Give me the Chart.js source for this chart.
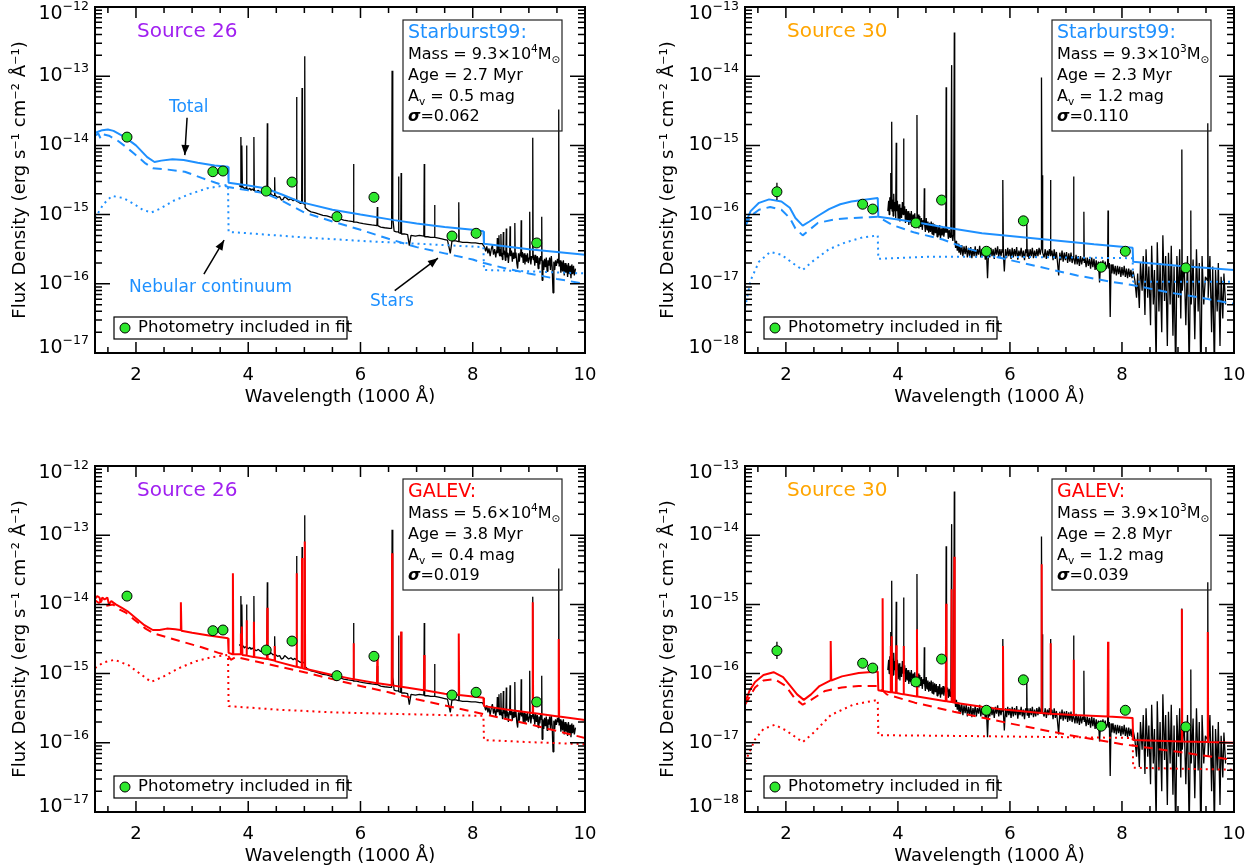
<!DOCTYPE html>
<html>
<head>
<meta charset="utf-8">
<script src="https://cdn.jsdelivr.net/npm/chart.js@4.4.1/dist/chart.umd.min.js"></script>
<style>
  html, body { margin: 0; padding: 0; background: #fff; }
  body { width: 1256px; height: 867px; position: relative; overflow: hidden; }
  .cell { position: absolute; }
</style>
</head>
<body>
<div class="cell" style="left:0;top:0;width:628px;height:433px"><canvas id="p1"></canvas></div>
<div class="cell" style="left:628px;top:0;width:628px;height:433px"><canvas id="p2"></canvas></div>
<div class="cell" style="left:0;top:433px;width:628px;height:434px"><canvas id="p3"></canvas></div>
<div class="cell" style="left:628px;top:433px;width:628px;height:434px"><canvas id="p4"></canvas></div>
<script>
// All spectra: [wavelength (1000 A), log10 flux (erg s^-1 cm^-2 A^-1)]

// Observed spectrum, source 26
const obs26 = [
  [3.84,-14.58],[3.862,-14.60],[3.869,-13.88],[3.876,-14.60],[3.883,-14.61],[3.889,-14.0],[3.896,-14.61],
  [3.91,-14.60],[3.93,-14.63],[3.95,-14.61],[3.963,-14.62],[3.970,-14.0],[3.977,-14.62],[4.0,-14.64],
  [4.03,-14.62],[4.05,-14.65],[4.07,-14.63],[4.094,-14.65],[4.101,-13.88],[4.108,-14.65],[4.14,-14.67],
  [4.18,-14.65],[4.22,-14.68],[4.26,-14.67],[4.30,-14.70],[4.333,-14.69],[4.340,-13.68],[4.347,-14.69],
  [4.38,-14.72],[4.41,-14.70],[4.44,-14.73],[4.465,-14.72],[4.471,-14.46],[4.477,-14.72],
  [4.52,-14.75],[4.56,-14.74],[4.59,-14.79],[4.62,-14.78],[4.65,-14.74],[4.68,-14.76],[4.72,-14.79],
  [4.76,-14.77],[4.80,-14.80],[4.83,-14.78],
  [4.854,-14.80],[4.861,-13.30],[4.868,-14.81],[4.90,-14.82],[4.93,-14.84],[4.952,-14.83],[4.959,-13.17],[4.966,-14.83],
  [5.0,-14.85],[5.007,-12.71],[5.014,-14.90],[5.04,-14.92],[5.07,-14.94],[5.12,-14.96],[5.18,-14.97],
  [5.25,-14.99],[5.33,-15.01],[5.40,-15.02],[5.48,-15.04],[5.55,-15.05],[5.63,-15.06],[5.70,-15.08],
  [5.78,-15.09],[5.869,-15.10],[5.876,-14.27],[5.883,-15.11],[5.93,-15.11],[5.98,-15.12],[6.05,-15.13],
  [6.13,-15.14],[6.20,-15.15],[6.293,-15.16],[6.300,-14.89],[6.307,-15.16],[6.36,-15.18],[6.43,-15.19],
  [6.52,-15.20],[6.555,-15.20],[6.563,-12.92],[6.575,-15.05],[6.60,-15.24],[6.64,-15.25],
  [6.671,-15.25],[6.678,-14.45],[6.685,-15.26],[6.717,-15.27],[6.724,-14.40],[6.731,-15.28],
  [6.78,-15.28],[6.84,-15.29],[6.87,-15.45],[6.90,-15.30],[6.98,-15.31],[7.05,-15.30],
  [7.129,-15.31],[7.136,-14.27],[7.143,-15.32],[7.20,-15.32],[7.25,-15.33],[7.313,-15.33],[7.320,-14.86],[7.327,-15.33],
  [7.39,-15.34],[7.45,-15.35],[7.50,-15.36],[7.55,-15.37],[7.60,-15.56],[7.63,-15.38],[7.70,-15.38],
  [7.744,-15.39],[7.751,-14.82],[7.758,-15.39],[7.82,-15.40],[7.90,-15.40],[7.98,-15.41],[8.05,-15.41],
  [8.12,-15.42],[8.17,-15.42],[8.21,-15.47],
  [8.23,-15.53],[8.25,-15.46],[8.27,-15.56],[8.29,-15.49],[8.31,-15.60],[8.33,-15.50],[8.35,-15.44],
  [8.37,-15.58],[8.39,-15.50],[8.41,-15.62],[8.425,-15.52],[8.432,-15.50],[8.438,-15.34],[8.445,-15.56],
  [8.46,-15.50],[8.467,-15.30],[8.474,-15.58],[8.485,-15.60],[8.495,-15.50],[8.502,-15.28],[8.509,-15.60],
  [8.52,-15.55],[8.53,-15.65],[8.538,-15.52],[8.545,-15.25],[8.552,-15.58],[8.565,-15.52],[8.58,-15.66],
  [8.591,-15.55],[8.598,-15.20],[8.605,-15.62],[8.62,-15.55],[8.635,-15.70],[8.65,-15.56],
  [8.658,-15.55],[8.665,-15.17],[8.672,-15.60],[8.69,-15.52],[8.705,-15.68],[8.72,-15.55],[8.735,-15.64],
  [8.743,-15.58],[8.750,-15.12],[8.757,-15.62],[8.77,-15.55],[8.785,-15.70],[8.80,-15.78],[8.815,-15.56],
  [8.83,-15.68],[8.845,-15.55],[8.856,-15.60],[8.863,-15.08],[8.870,-15.62],[8.885,-15.54],[8.90,-15.70],
  [8.915,-15.56],[8.93,-15.72],[8.945,-15.58],[8.96,-15.68],[8.975,-15.56],[8.99,-15.70],
  [9.008,-15.62],[9.015,-14.96],[9.022,-15.60],[9.035,-15.72],[9.05,-15.60],[9.062,-15.62],[9.069,-13.89],
  [9.076,-15.65],[9.09,-15.58],[9.105,-15.74],[9.12,-15.58],[9.135,-15.70],[9.15,-15.60],[9.165,-15.78],
  [9.18,-15.62],[9.195,-15.72],[9.21,-15.60],[9.222,-15.66],[9.229,-15.03],[9.236,-15.95],[9.25,-15.66],
  [9.265,-15.80],[9.28,-15.64],[9.295,-15.76],[9.31,-15.62],[9.325,-15.82],[9.34,-15.66],[9.355,-15.74],
  [9.37,-15.62],[9.385,-15.80],[9.40,-15.60],[9.415,-15.76],[9.43,-16.13],[9.445,-15.68],[9.46,-15.80],
  [9.475,-15.66],[9.49,-15.74],[9.51,-15.64],[9.525,-15.70],[9.532,-13.48],[9.539,-15.75],[9.555,-15.66],
  [9.57,-15.84],[9.585,-15.68],[9.60,-15.82],[9.615,-15.66],[9.63,-15.88],[9.645,-15.70],[9.66,-15.84],
  [9.675,-15.72],[9.69,-15.90],[9.705,-15.70],[9.72,-15.86],[9.735,-15.74],[9.75,-15.92],[9.765,-15.72],
  [9.78,-15.86],[9.795,-15.74],[9.81,-15.88],[9.83,-15.78]
];

// Observed spectrum, source 30
const obs30 = [
  [3.82,-15.95],[3.835,-15.80],[3.845,-16.0],[3.855,-15.75],[3.862,-15.90],[3.869,-15.40],[3.876,-15.92],
  [3.882,-15.85],[3.889,-14.66],[3.896,-15.95],[3.905,-15.78],[3.915,-16.02],[3.925,-15.70],[3.935,-15.95],
  [3.948,-15.82],[3.958,-16.05],[3.963,-15.90],[3.970,-14.96],[3.977,-15.95],[3.99,-15.80],[4.005,-16.08],
  [4.02,-15.85],[4.035,-16.10],[4.05,-15.90],[4.065,-16.05],[4.08,-15.82],[4.094,-16.0],[4.101,-14.90],
  [4.108,-16.0],[4.12,-15.88],[4.135,-16.12],[4.15,-15.92],[4.165,-16.10],[4.18,-15.95],[4.195,-16.15],
  [4.21,-15.98],[4.225,-16.12],[4.24,-15.95],[4.255,-16.18],[4.27,-16.0],[4.285,-16.12],[4.30,-15.98],
  [4.315,-16.15],[4.333,-16.05],[4.340,-14.56],[4.347,-16.10],[4.36,-16.0],[4.375,-16.20],[4.39,-16.02],
  [4.405,-16.18],[4.42,-16.05],[4.435,-16.22],[4.45,-16.08],[4.464,-16.15],[4.471,-15.62],[4.478,-16.15],
  [4.49,-16.25],[4.505,-16.05],[4.52,-16.22],[4.535,-16.10],[4.55,-16.26],[4.565,-16.12],[4.58,-16.25],
  [4.595,-16.10],[4.61,-16.28],[4.625,-16.12],[4.64,-16.30],[4.655,-16.14],[4.67,-16.27],[4.685,-16.15],
  [4.70,-16.32],[4.715,-16.18],[4.73,-16.30],[4.745,-16.15],[4.76,-16.35],[4.775,-16.20],[4.79,-16.30],
  [4.805,-16.18],[4.82,-16.32],[4.838,-16.20],[4.854,-16.26],[4.861,-14.16],[4.868,-16.26],[4.885,-16.20],
  [4.90,-16.35],[4.915,-16.22],[4.93,-16.33],[4.945,-16.25],[4.959,-13.84],[4.966,-16.30],[4.98,-16.38],
  [4.993,-16.28],[5.007,-13.37],[5.014,-16.35],[5.03,-16.48],[5.045,-16.38],[5.06,-16.52],[5.075,-16.42],
  [5.09,-16.55],[5.105,-16.45],[5.12,-16.58],[5.14,-16.44],[5.16,-16.60],[5.18,-16.46],[5.20,-16.57],
  [5.22,-16.45],[5.24,-16.62],[5.26,-16.48],[5.28,-16.60],[5.30,-16.47],[5.32,-16.63],[5.34,-16.50],
  [5.36,-16.60],[5.38,-16.46],[5.40,-16.62],[5.42,-16.50],[5.44,-16.58],[5.46,-16.45],[5.48,-16.62],
  [5.50,-16.50],[5.52,-16.60],[5.54,-16.48],[5.56,-16.65],[5.58,-16.52],[5.60,-16.92],[5.62,-16.50],
  [5.64,-16.62],[5.66,-16.48],[5.68,-16.60],[5.70,-16.50],[5.72,-16.64],[5.74,-16.48],[5.76,-16.58],
  [5.78,-16.46],[5.80,-16.62],[5.82,-16.50],[5.84,-16.60],[5.86,-16.50],[5.869,-16.55],[5.876,-15.50],
  [5.883,-16.57],[5.90,-16.82],[5.92,-16.50],[5.94,-16.63],[5.96,-16.48],[5.98,-16.60],[6.00,-16.50],
  [6.02,-16.64],[6.04,-16.48],[6.06,-16.62],[6.08,-16.50],[6.10,-16.60],[6.12,-16.47],[6.14,-16.65],
  [6.16,-16.52],[6.18,-16.60],[6.20,-16.48],[6.22,-16.62],[6.24,-16.52],[6.26,-16.66],[6.28,-16.50],
  [6.293,-16.55],[6.300,-16.08],[6.307,-16.60],[6.32,-16.50],[6.34,-16.64],[6.36,-16.50],[6.38,-16.60],
  [6.40,-16.48],[6.42,-16.63],[6.44,-16.52],[6.46,-16.62],[6.48,-16.50],[6.50,-16.60],[6.52,-16.48],
  [6.54,-16.58],[6.556,-16.50],[6.563,-14.02],[6.575,-16.40],[6.578,-16.45],[6.584,-15.43],[6.59,-16.55],
  [6.61,-16.62],[6.63,-16.50],[6.65,-16.64],[6.67,-16.52],[6.69,-16.60],[6.705,-16.50],[6.717,-16.55],
  [6.724,-15.50],[6.731,-16.60],[6.75,-16.52],[6.77,-16.66],[6.79,-16.50],[6.81,-16.64],[6.83,-16.54],
  [6.85,-16.70],[6.87,-16.88],[6.89,-16.55],[6.91,-16.66],[6.93,-16.52],[6.95,-16.68],[6.97,-16.55],
  [6.99,-16.66],[7.01,-16.54],[7.03,-16.70],[7.05,-16.56],[7.07,-16.68],[7.09,-16.55],[7.11,-16.70],
  [7.129,-16.60],[7.136,-15.45],[7.143,-16.62],[7.16,-16.72],[7.18,-16.58],[7.20,-16.72],[7.22,-16.60],
  [7.24,-16.74],[7.26,-16.60],[7.28,-16.72],[7.30,-16.62],[7.313,-16.66],[7.320,-15.96],[7.327,-16.70],
  [7.34,-16.62],[7.36,-16.76],[7.38,-16.62],[7.40,-16.74],[7.42,-16.64],[7.44,-16.78],[7.46,-16.62],
  [7.48,-16.76],[7.50,-16.64],[7.52,-16.80],[7.54,-16.66],[7.56,-16.78],[7.58,-16.68],[7.60,-16.98],
  [7.62,-16.68],[7.64,-16.80],[7.66,-16.66],[7.68,-16.80],[7.70,-16.68],[7.72,-16.78],[7.744,-16.72],
  [7.751,-15.94],[7.758,-16.78],[7.775,-16.70],[7.79,-17.48],[7.805,-16.72],[7.82,-16.85],[7.84,-16.72],
  [7.86,-16.86],[7.88,-16.74],[7.90,-16.88],[7.92,-16.74],[7.94,-16.86],[7.96,-16.75],[7.98,-16.90],
  [8.00,-16.76],[8.02,-16.88],[8.04,-16.74],[8.06,-16.90],[8.08,-16.78],[8.10,-16.92],[8.12,-16.78],
  [8.14,-16.90],[8.16,-16.80],[8.18,-16.92],[8.20,-16.82],
  [8.23,-16.95],[8.26,-17.20],[8.28,-16.85],[8.31,-17.35],[8.33,-16.70],[8.36,-17.10],[8.38,-16.60],
  [8.41,-17.45],[8.43,-16.50],[8.46,-17.20],[8.48,-16.75],[8.51,-17.60],[8.53,-16.45],[8.56,-17.30],
  [8.58,-16.80],[8.61,-18.20],[8.63,-16.40],[8.66,-17.40],[8.68,-16.70],[8.71,-17.70],[8.73,-16.30],
  [8.76,-17.25],[8.78,-16.60],[8.81,-17.90],[8.83,-16.55],[8.86,-17.30],[8.88,-16.45],[8.91,-17.75],
  [8.93,-16.75],[8.96,-18.40],[8.98,-16.60],[9.01,-17.20],[9.03,-16.50],[9.05,-17.50],
  [9.062,-16.80],[9.069,-15.06],[9.076,-17.10],[9.11,-16.70],[9.14,-17.60],[9.17,-16.60],[9.20,-18.30],
  [9.222,-16.80],[9.229,-15.94],[9.236,-17.30],[9.27,-16.65],[9.30,-17.80],[9.33,-16.50],[9.36,-17.40],
  [9.38,-16.70],[9.41,-18.50],[9.43,-16.60],[9.46,-17.30],[9.49,-16.90],
  [9.525,-16.95],[9.532,-14.68],[9.539,-17.20],[9.57,-16.60],[9.60,-17.70],[9.62,-16.75],[9.65,-18.30],
  [9.67,-16.80],[9.70,-17.40],[9.72,-16.70],[9.75,-17.90],[9.77,-16.90],[9.80,-17.50],[9.82,-16.85],[9.85,-17.30]
];

// Photometry (same filters for both sources)
const photWave = [1.84, 3.37, 3.55, 4.32, 4.78, 5.58, 6.24, 7.63, 8.06, 9.14];
const phot26 = [-13.88, -14.38, -14.37, -14.66, -14.53, -15.03, -14.75, -15.31, -15.27, -15.41];
const phot30 = [-15.67, -15.85, -15.92, -16.12, -15.79, -16.53, -16.09, -16.76, -16.53, -16.77];
const phot30Err = [1.84, -15.79, -15.54];

// Starburst99 fit, source 26
const sb26Total = [
  [1.27,-13.82],[1.40,-13.78],[1.50,-13.77],[1.60,-13.79],[1.80,-13.88],[2.00,-14.0],[2.20,-14.17],
  [2.33,-14.24],[2.45,-14.22],[2.65,-14.20],[2.85,-14.21],[3.10,-14.25],[3.40,-14.29],[3.64,-14.31],
  [3.65,-14.54],[4.0,-14.58],[4.3,-14.62],[4.6,-14.71],[4.94,-14.82],[5.5,-14.93],[6.0,-15.0],
  [6.6,-15.08],[7.0,-15.13],[7.5,-15.18],[8.0,-15.22],[8.19,-15.24],[8.20,-15.42],[8.6,-15.46],
  [9.0,-15.50],[9.5,-15.54],[10.0,-15.58]
];
const sb26Stars = [
  [1.27,-13.86],[1.33,-13.83],[1.37,-13.90],[1.41,-13.84],[1.52,-13.86],[1.67,-13.93],[1.82,-14.02],
  [1.97,-14.12],[2.17,-14.26],[2.30,-14.33],[2.57,-14.35],[2.87,-14.38],[3.17,-14.47],[3.42,-14.54],
  [3.64,-14.60],[4.0,-14.65],[4.3,-14.69],[4.6,-14.80],[5.0,-14.97],[5.5,-15.10],[6.0,-15.22],
  [6.5,-15.35],[7.0,-15.47],[7.5,-15.56],[8.0,-15.65],[8.2,-15.70],[8.6,-15.78],[9.0,-15.85],
  [9.5,-15.93],[10.0,-16.0]
];
const sb26Neb = [
  [1.27,-15.05],[1.42,-14.85],[1.57,-14.73],[1.77,-14.76],[1.97,-14.85],[2.12,-14.93],[2.27,-14.97],
  [2.42,-14.92],[2.67,-14.80],[2.97,-14.70],[3.27,-14.62],[3.64,-14.57],[3.65,-15.25],[4.0,-15.27],
  [5.0,-15.33],[6.0,-15.38],[7.0,-15.42],[8.19,-15.47],[8.20,-15.80],[9.0,-15.82],[10.0,-15.85]
];

// Starburst99 fit, source 30
const sb30Total = [
  [1.27,-16.14],[1.37,-15.95],[1.52,-15.83],[1.70,-15.78],[1.92,-15.81],[2.07,-15.90],[2.17,-16.05],
  [2.30,-16.16],[2.42,-16.10],[2.57,-16.02],[2.77,-15.92],[2.97,-15.85],[3.17,-15.81],[3.37,-15.79],
  [3.64,-15.76],[3.65,-16.03],[4.0,-16.07],[4.4,-16.12],[4.8,-16.18],[5.5,-16.27],[6.5,-16.35],
  [7.5,-16.43],[8.19,-16.48],[8.20,-16.68],[9.0,-16.74],[10.0,-16.80]
];
const sb30Stars = [
  [1.27,-16.17],[1.37,-16.02],[1.52,-15.93],[1.72,-15.89],[1.92,-15.93],[2.07,-16.05],[2.17,-16.20],
  [2.30,-16.30],[2.42,-16.22],[2.57,-16.12],[2.87,-16.07],[3.17,-16.05],[3.42,-16.04],[3.64,-16.03],
  [3.90,-16.15],[4.3,-16.26],[4.8,-16.36],[5.2,-16.48],[5.8,-16.62],[6.5,-16.75],[7.2,-16.88],
  [7.8,-16.97],[8.2,-17.02],[8.8,-17.12],[9.4,-17.20],[10.0,-17.29]
];
const sb30Neb = [
  [1.27,-17.35],[1.37,-16.95],[1.52,-16.68],[1.72,-16.54],[1.92,-16.58],[2.12,-16.70],[2.30,-16.80],
  [2.47,-16.68],[2.77,-16.50],[3.07,-16.40],[3.37,-16.33],[3.64,-16.30],[3.65,-16.64],[4.5,-16.61],
  [6.0,-16.61],[7.0,-16.62],[8.19,-16.63],[8.20,-16.97],[10.0,-16.97]
];

// GALEV fit, source 26
const galev26Total = [
  [1.27,-13.92],[1.31,-13.88],[1.35,-13.90],[1.37,-13.97],[1.40,-13.90],[1.44,-13.93],[1.49,-13.90],
  [1.52,-14.0],[1.56,-13.95],[1.64,-14.0],[1.75,-14.05],[1.85,-14.10],[2.0,-14.20],[2.15,-14.30],
  [2.30,-14.37],[2.42,-14.37],[2.55,-14.35],[2.70,-14.36],[2.79,-14.37],[2.80,-13.97],[2.81,-14.38],
  [3.0,-14.41],[3.3,-14.45],[3.64,-14.49],[3.65,-14.70],[3.72,-14.72],[3.727,-13.55],[3.734,-14.72],
  [3.80,-14.72],[3.862,-14.72],[3.869,-14.42],[3.876,-14.72],[3.882,-14.72],[3.889,-14.32],[3.896,-14.73],
  [3.963,-14.74],[3.970,-14.23],[3.977,-14.74],[4.094,-14.76],[4.101,-14.25],[4.108,-14.76],
  [4.333,-14.79],[4.340,-14.05],[4.347,-14.79],[4.464,-14.81],[4.471,-14.60],[4.478,-14.82],
  [4.854,-14.90],[4.861,-13.55],[4.868,-14.90],[4.952,-14.92],[4.959,-13.33],[4.966,-14.92],
  [5.0,-14.93],[5.007,-13.09],[5.014,-14.93],[5.5,-15.02],[5.869,-15.08],[5.876,-14.56],[5.883,-15.08],
  [6.293,-15.14],[6.300,-14.75],[6.307,-15.14],[6.556,-15.17],[6.563,-13.26],[6.570,-15.17],
  [6.717,-15.19],[6.724,-14.39],[6.731,-15.19],[7.129,-15.24],[7.136,-14.73],[7.143,-15.24],
  [7.5,-15.29],[7.744,-15.31],[7.751,-14.42],[7.758,-15.31],[8.0,-15.33],[8.19,-15.35],[8.20,-15.47],
  [8.6,-15.52],[9.062,-15.57],[9.069,-13.97],[9.076,-15.57],[9.525,-15.62],[9.532,-14.50],[9.539,-15.62],
  [10.0,-15.67]
];
const galev26Stars = [
  [1.27,-13.94],[1.34,-13.98],[1.39,-13.95],[1.47,-14.02],[1.59,-14.0],[1.72,-14.08],[1.82,-14.12],
  [1.97,-14.22],[2.17,-14.35],[2.32,-14.42],[2.57,-14.48],[2.87,-14.55],[3.17,-14.62],[3.47,-14.70],
  [3.64,-14.74],[3.69,-14.80],[3.78,-14.76],[4.0,-14.80],[4.5,-14.89],[5.0,-14.98],[5.5,-15.08],
  [6.0,-15.18],[6.5,-15.27],[7.0,-15.37],[7.5,-15.46],[8.0,-15.55],[8.5,-15.64],[9.0,-15.73],
  [9.5,-15.83],[10.0,-15.93]
];
const galev26Neb = [
  [1.27,-14.92],[1.42,-14.84],[1.62,-14.80],[1.87,-14.88],[2.07,-15.0],[2.27,-15.12],[2.47,-15.05],
  [2.77,-14.92],[3.07,-14.82],[3.37,-14.76],[3.64,-14.73],[3.65,-15.47],[4.5,-15.52],[5.5,-15.56],
  [6.5,-15.58],[7.5,-15.60],[8.19,-15.61],[8.20,-15.96],[9.0,-15.99],[10.0,-16.02]
];

// GALEV fit, source 30
const galev30Total = [
  [1.27,-16.42],[1.35,-16.25],[1.45,-16.12],[1.60,-16.02],[1.78,-15.98],[1.95,-16.05],[2.10,-16.20],
  [2.20,-16.30],[2.32,-16.38],[2.45,-16.30],[2.60,-16.18],[2.79,-16.10],[2.80,-15.53],[2.81,-16.10],
  [3.0,-16.04],[3.3,-15.99],[3.64,-15.97],[3.65,-16.24],[3.72,-16.25],[3.727,-14.91],[3.734,-16.25],
  [3.862,-16.27],[3.869,-15.60],[3.876,-16.27],[3.882,-16.27],[3.889,-15.46],[3.896,-16.27],
  [3.963,-16.28],[3.970,-15.59],[3.977,-16.28],[4.094,-16.30],[4.101,-15.60],[4.108,-16.30],
  [4.333,-16.33],[4.340,-15.36],[4.347,-16.33],[4.854,-16.40],[4.861,-14.99],[4.868,-16.40],
  [4.952,-16.41],[4.959,-14.78],[4.966,-16.41],[5.0,-16.42],[5.007,-14.31],[5.014,-16.42],
  [5.5,-16.48],[5.869,-16.52],[5.876,-15.60],[5.883,-16.52],[6.556,-16.57],[6.563,-14.42],[6.570,-16.57],
  [6.717,-16.58],[6.724,-15.56],[6.731,-16.58],[7.129,-16.60],[7.136,-15.80],[7.143,-16.60],
  [7.744,-16.62],[7.751,-15.54],[7.758,-16.62],[8.19,-16.64],[8.20,-16.96],[9.062,-16.98],[9.069,-15.07],
  [9.076,-16.98],[9.525,-16.99],[9.532,-15.40],[9.539,-16.99],[10.0,-17.0]
];
const galev30Stars = [
  [1.27,-16.45],[1.45,-16.20],[1.60,-16.10],[1.80,-16.08],[2.0,-16.18],[2.15,-16.35],[2.30,-16.45],
  [2.45,-16.38],[2.70,-16.25],[3.0,-16.20],[3.3,-16.18],[3.64,-16.18],[3.80,-16.30],[4.3,-16.42],
  [5.0,-16.55],[6.0,-16.72],[7.0,-16.88],[8.0,-17.02],[9.0,-17.13],[10.0,-17.25]
];
const galev30Neb = [
  [1.27,-17.28],[1.45,-16.95],[1.60,-16.80],[1.80,-16.74],[2.0,-16.82],[2.30,-16.99],[2.50,-16.85],
  [2.80,-16.60],[3.20,-16.45],[3.64,-16.38],[3.65,-16.89],[5.0,-16.90],[8.19,-16.93],[8.20,-17.36],
  [10.0,-17.39]
];

// Fit parameter boxes: title, mass, mass exponent, age, Av, sigma
const sb26Box = ['Starburst99:', '9.3', '4', '2.7', '0.5', '0.062'];
const sb30Box = ['Starburst99:', '9.3', '3', '2.3', '1.2', '0.110'];
const galev26Box = ['GALEV:', '5.6', '4', '3.8', '0.4', '0.019'];
const galev30Box = ['GALEV:', '3.9', '3', '2.8', '1.2', '0.039'];

const xTicks = [2, 4, 6, 8, 10];

const BLUE = '#1e90ff', RED = '#ff0000', GREEN = '#2ee82e';
const PURPLE = '#a020f0', ORANGE = '#ffa500';
const FONT = "'DejaVu Sans', sans-serif";

Chart.defaults.font.family = FONT;
Chart.defaults.color = '#000';

function toPts(arr) {
  return arr.map(([x, lg]) => ({ x: x, y: Math.pow(10, lg) }));
}

// draw a run of text pieces: kind '' normal, 'sup', 'sub', 'b' bold italic
function runWidth(ctx, parts, size) {
  let w = 0;
  for (const [t, kind] of parts) {
    const fs = (kind === 'sup' || kind === 'sub') ? size * 0.66 : size;
    ctx.font = (kind === 'b' ? 'bold italic ' : '') + fs + 'px ' + FONT;
    w += ctx.measureText(t).width;
  }
  return w;
}
function drawRun(ctx, parts, x, y, size) {
  for (const [t, kind] of parts) {
    let fs = size, dy = 0;
    if (kind === 'sup') { fs = size * 0.66; dy = -size * 0.37; }
    if (kind === 'sub') { fs = size * 0.66; dy = size * 0.32; }
    ctx.font = (kind === 'b' ? 'bold italic ' : '') + fs + 'px ' + FONT;
    ctx.fillText(t, x, y + dy);
    x += ctx.measureText(t).width;
  }
  return x;
}

function arrow(ctx, x1, y1, x2, y2) {
  ctx.beginPath();
  ctx.moveTo(x1, y1);
  ctx.lineTo(x2, y2);
  ctx.stroke();
  const a = Math.atan2(y2 - y1, x2 - x1), L = 10, W = 4;
  ctx.beginPath();
  ctx.moveTo(x2, y2);
  ctx.lineTo(x2 - L * Math.cos(a) + W * Math.sin(a), y2 - L * Math.sin(a) - W * Math.cos(a));
  ctx.lineTo(x2 - L * Math.cos(a) - W * Math.sin(a), y2 - L * Math.sin(a) + W * Math.cos(a));
  ctx.closePath();
  ctx.fill();
}

// IDL-like frame: inward ticks on all sides, superscript labels, boxes and notes
const idlPlugin = {
  id: 'idl',
  afterDatasetsDraw(chart, args, opts) {
    const { ctx, chartArea: a, scales: { x, y } } = chart;
    ctx.save();
    ctx.strokeStyle = '#000';
    ctx.fillStyle = '#000';
    ctx.lineWidth = 1.5;

    // x ticks
    for (let v = 1.5; v <= 10.001; v += 0.5) {
      const px = x.getPixelForValue(v);
      const len = xTicks.includes(v) ? 11 : 6;
      ctx.beginPath();
      ctx.moveTo(px, a.bottom); ctx.lineTo(px, a.bottom - len);
      ctx.moveTo(px, a.top); ctx.lineTo(px, a.top + len);
      ctx.stroke();
    }
    // y ticks
    for (let e = opts.yMin; e <= opts.yMax; e++) {
      for (let m = 1; m <= 9; m++) {
        if (e === opts.yMax && m > 1) break;
        const py = y.getPixelForValue(m * Math.pow(10, e));
        const len = m === 1 ? 15 : 7;
        ctx.beginPath();
        ctx.moveTo(a.left, py); ctx.lineTo(a.left + len, py);
        ctx.moveTo(a.right, py); ctx.lineTo(a.right - len, py);
        ctx.stroke();
      }
    }
    ctx.lineWidth = 2;
    ctx.strokeRect(a.left, a.top, a.right - a.left, a.bottom - a.top);

    // tick labels
    ctx.textBaseline = 'middle';
    ctx.textAlign = 'center';
    ctx.font = '18px ' + FONT;
    for (const v of xTicks) ctx.fillText(String(v), x.getPixelForValue(v), a.bottom + 22);
    ctx.textAlign = 'left';
    for (let e = opts.yMin; e <= opts.yMax; e++) {
      const parts = [['10', ''], ['\u2212' + Math.abs(e), 'sup']];
      const w = runWidth(ctx, parts, 19);
      let py = y.getPixelForValue(Math.pow(10, e));
      py = Math.min(Math.max(py, a.top + 7), a.bottom - 5);
      drawRun(ctx, parts, a.left - 6 - w, py, 19);
    }

    // source label
    ctx.fillStyle = opts.source[1];
    ctx.font = '20px ' + FONT;
    ctx.fillText(opts.source[0], a.left + 42, a.top + 25);

    // fit parameter box
    const b = opts.box;
    const bx = a.right - 182, by = a.top + 13;
    ctx.lineWidth = 1.2;
    ctx.strokeStyle = '#222';
    ctx.strokeRect(bx, by, 159, 111);
    ctx.fillStyle = opts.color;
    ctx.font = '19px ' + FONT;
    ctx.fillText(b[0], bx + 5, by + 13);
    ctx.fillStyle = '#000';
    drawRun(ctx, [['Mass = ' + b[1] + '\u00d710', ''], [b[2], 'sup'], ['M', ''], ['\u2299', 'sub']], bx + 5, by + 35, 16);
    drawRun(ctx, [['Age = ' + b[3] + ' Myr', '']], bx + 5, by + 56, 16);
    drawRun(ctx, [['A', ''], ['v', 'sub'], [' = ' + b[4] + ' mag', '']], bx + 5, by + 77, 16);
    drawRun(ctx, [['\u03c3', 'b'], ['=' + b[5], '']], bx + 5, by + 97, 16);

    // photometry legend
    ctx.strokeStyle = '#000';
    ctx.strokeRect(a.left + 19, a.bottom - 36, 233, 22);
    ctx.beginPath();
    ctx.arc(a.left + 30, a.bottom - 25, 5, 0, Math.PI * 2);
    ctx.fillStyle = GREEN;
    ctx.fill();
    ctx.lineWidth = 1;
    ctx.stroke();
    ctx.fillStyle = '#000';
    ctx.font = '16.5px ' + FONT;
    ctx.fillText('Photometry included in fit', a.left + 43, a.bottom - 25);

    // component notes (data coordinates)
    if (opts.notes) {
      ctx.textAlign = 'center';
      ctx.lineWidth = 1.5;
      for (const n of opts.notes) {
        const X = v => x.getPixelForValue(v), Y = v => y.getPixelForValue(Math.pow(10, v));
        ctx.fillStyle = opts.color;
        ctx.font = '17px ' + FONT;
        ctx.fillText(n[0], X(n[1]), Y(n[2]));
        ctx.fillStyle = '#000';
        ctx.strokeStyle = '#000';
        arrow(ctx, X(n[3]), Y(n[4]), X(n[5]), Y(n[6]));
      }
    }
    ctx.restore();
  }
};

// label, text x, text y, arrow from x,y to x,y
const sb26Notes = [
  ['Total', 2.94, -13.45, 2.91, -13.60, 2.87, -14.14],
  ['Nebular continuum', 3.33, -16.05, 3.21, -15.86, 3.57, -15.37],
  ['Stars', 6.56, -16.26, 6.61, -16.10, 7.38, -15.63]
];

function makePanel(id, p) {
  const datasets = [
    { data: toPts(photWave.map((w, i) => [w, p.phot[i]])), showLine: false, pointRadius: 5,
      pointBackgroundColor: GREEN, pointBorderColor: '#000', pointBorderWidth: 1, order: 0 },
    { data: toPts(p.total), borderColor: p.color, borderWidth: 2, order: 2 },
    { data: toPts(p.stars), borderColor: p.color, borderWidth: 2, borderDash: [9, 6], order: 2 },
    { data: toPts(p.neb), borderColor: p.color, borderWidth: 2, borderDash: [2, 4], order: 2 },
    { data: toPts(p.obs), borderColor: '#000', borderWidth: 1.3, order: 3 }
  ];
  if (p.err) {
    datasets.push({ data: toPts([[p.err[0], p.err[1]], [p.err[0], p.err[2]]]),
      borderColor: '#000', borderWidth: 1.3, order: 1 });
  }
  return new Chart(document.getElementById(id), {
    type: 'line',
    data: { datasets: datasets },
    options: {
      responsive: true,
      maintainAspectRatio: false,
      animation: false,
      events: [],
      layout: { padding: { left: 0, top: p.padTop, right: p.padRight, bottom: 0 } },
      elements: {
        point: { radius: 0 },
        line: { tension: 0, borderJoinStyle: 'bevel', fill: false }
      },
      plugins: {
        legend: { display: false },
        tooltip: { enabled: false },
        idl: { yMin: p.yMin, yMax: p.yMax, source: p.source, box: p.box, color: p.color, notes: p.notes }
      },
      scales: {
        x: {
          type: 'linear', min: 1.27, max: 10,
          grid: { display: false }, border: { display: false }, ticks: { display: false },
          afterFit: s => { s.height = p.xHeight; },
          title: { display: true, text: 'Wavelength (1000 \u00c5)', font: { size: 18 },
                   padding: { top: 0, bottom: p.xTitlePad } }
        },
        y: {
          type: 'logarithmic', min: Math.pow(10, p.yMin), max: Math.pow(10, p.yMax),
          grid: { display: false }, border: { display: false }, ticks: { display: false },
          afterFit: s => { s.width = p.yWidth; },
          title: { display: true, text: 'Flux Density (erg s\u207b\u00b9 cm\u207b\u00b2 \u00c5\u207b\u00b9)',
                   font: { size: 18 }, padding: { top: p.yTitlePad, bottom: 0 } }
        }
      }
    },
    plugins: [idlPlugin]
  });
}

makePanel('p1', { obs: obs26, total: sb26Total, stars: sb26Stars, neb: sb26Neb, color: BLUE,
  phot: phot26, err: null, yMin: -17, yMax: -12, padTop: 7, padRight: 43, yWidth: 95,
  xHeight: 80, xTitlePad: 25, yTitlePad: 10, source: ['Source 26', PURPLE], box: sb26Box, notes: sb26Notes });
makePanel('p2', { obs: obs30, total: sb30Total, stars: sb30Stars, neb: sb30Neb, color: BLUE,
  phot: phot30, err: phot30Err, yMin: -18, yMax: -13, padTop: 7, padRight: 22, yWidth: 117,
  xHeight: 80, xTitlePad: 25, yTitlePad: 30, source: ['Source 30', ORANGE], box: sb30Box, notes: null });
makePanel('p3', { obs: obs26, total: galev26Total, stars: galev26Stars, neb: galev26Neb, color: RED,
  phot: phot26, err: null, yMin: -17, yMax: -12, padTop: 33, padRight: 43, yWidth: 95,
  xHeight: 55, xTitlePad: 0, yTitlePad: 10, source: ['Source 26', PURPLE], box: galev26Box, notes: null });
makePanel('p4', { obs: obs30, total: galev30Total, stars: galev30Stars, neb: galev30Neb, color: RED,
  phot: phot30, err: phot30Err, yMin: -18, yMax: -13, padTop: 33, padRight: 22, yWidth: 117,
  xHeight: 55, xTitlePad: 0, yTitlePad: 30, source: ['Source 30', ORANGE], box: galev30Box, notes: null });
</script>
</body>
</html>
